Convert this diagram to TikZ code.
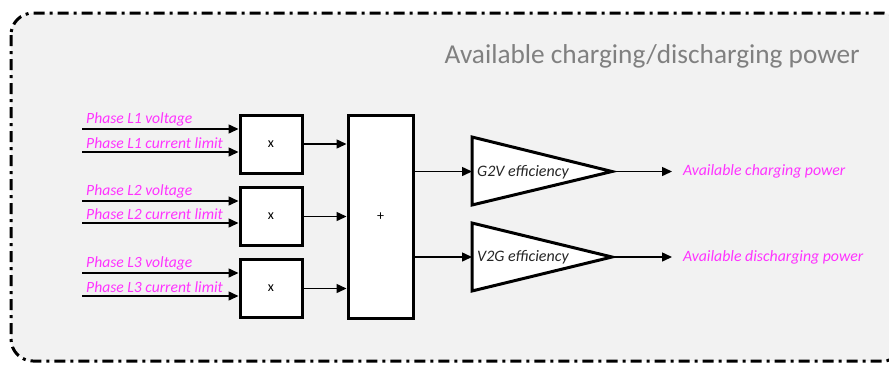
\documentclass[tikz,border=0pt]{standalone}
\usepackage{fontspec}
\setmainfont{Carlito}
\usetikzlibrary{arrows.meta,positioning}
\definecolor{panelgray}{HTML}{F2F2F2}
\definecolor{titlegray}{HTML}{808080}
\definecolor{sigpink}{HTML}{FF33FF}

\begin{document}
\begin{tikzpicture}[x=1pt,y=-1pt,
		every node/.style={font=\fontsize{15.6pt}{18pt}\selectfont},
		blk/.style={draw=black, line width=3pt, fill=white},
		multbox/.style={blk, minimum width=62pt, minimum height=58pt, inner sep=0pt, font=\fontsize{14pt}{16pt}\selectfont},
		sig/.style={line width=1.5pt, -{Triangle[length=10pt,width=9pt]}},
		siglabel/.style={text=sigpink, font=\fontsize{15.6pt}{18pt}\selectfont\itshape, inner sep=0pt, anchor=south west},
		efflabel/.style={text=black!85, font=\fontsize{16pt}{18pt}\selectfont\itshape, inner sep=0pt, anchor=west},
		outlabel/.style={text=sigpink, font=\fontsize{15.8pt}{18pt}\selectfont\itshape, inner sep=0pt, anchor=west}
	]
		\useasboundingbox (0,0) rectangle (889,368);
		
		% panel
		\draw[fill=panelgray, line width=3pt, dash pattern=on 11pt off 5pt on 3pt off 5pt, rounded corners=22pt] (11,13) rectangle (905,361);
		\node[text=titlegray, font=\fontsize{27.3pt}{32pt}\selectfont, anchor=base east, inner sep=0pt] (title) at (860,63) {Available charging/discharging power};
		
		% multipliers and sum
		\node[multbox] (m1) at (271,144) {x};
		\node[multbox] (m2) at (271,216.5) {x};
		\node[multbox] (m3) at (271,288.5) {x};
		\node[blk, minimum width=65pt, minimum height=203pt, inner sep=0pt, font=\fontsize{14pt}{16pt}\selectfont] (sum) at (380.5,216.5) {+};
		
		% inputs
		\coordinate (in1v) at (82,129);
		\coordinate (in1i) at (82,152);
		\coordinate (in2v) at (82,201);
		\coordinate (in2i) at (82,223);
		\coordinate (in3v) at (82,273);
		\coordinate (in3i) at (82,296);
		\foreach \p/\b in {1v/m1,1i/m1,2v/m2,2i/m2,3v/m3,3i/m3}
			\draw[sig] (in\p) -- (\b.west |- in\p);
		
		\node[siglabel] (l1v) at (86,126) {Phase L1 voltage};
		\node[siglabel] (l1i) at (86,149) {Phase L1 current limit};
		\node[siglabel] (l2v) at (86,198) {Phase L2 voltage};
		\node[siglabel] (l2i) at (86,220) {Phase L2 current limit};
		\node[siglabel] (l3v) at (86,270) {Phase L3 voltage};
		\node[siglabel] (l3i) at (86,293) {Phase L3 current limit};
		
		\foreach \m in {m1,m2,m3}
			\draw[sig] (\m.east) -- (\m.east -| sum.west);
		
		% efficiencies
		\draw[blk] (472,137) -- (612,171.5) coordinate (g2vout) -- (472,205) -- cycle;
		\draw[blk] (472,223) -- (612,257) coordinate (v2gout) -- (472,291) -- cycle;
		\coordinate (g2vin) at (472,171.5);
		\coordinate (v2gin) at (472,257);
		\node[efflabel] (g2v) at (477,172) {G2V efficiency};
		\node[efflabel] (v2g) at (477,257.5) {V2G efficiency};
		
		\draw[sig] (sum.east |- g2vin) -- (g2vin);
		\draw[sig] (sum.east |- v2gin) -- (v2gin);
		
		% outputs
		\node[outlabel] (chg) at (683,171.5) {Available charging power};
		\node[outlabel] (dis) at (683,257) {Available discharging power};
		\draw[sig] (g2vout) -- ([xshift=-11pt]chg.west);
		\draw[sig] (v2gout) -- ([xshift=-11pt]dis.west);
		
	\end{tikzpicture}
\end{document}
